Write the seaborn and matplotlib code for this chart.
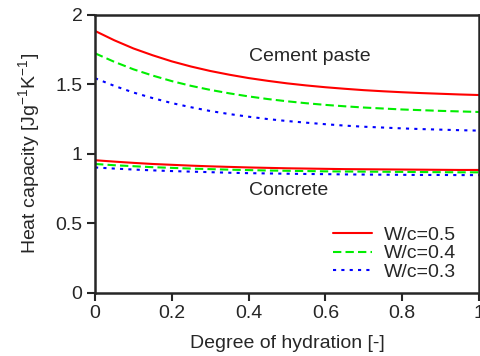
import numpy as np
import pandas as pd
import matplotlib
matplotlib.use("Agg")
import matplotlib.pyplot as plt
import seaborn as sns

# Degree of hydration
alpha = [0.0, 0.05, 0.1, 0.15, 0.2, 0.25, 0.3, 0.35, 0.4, 0.45, 0.5,
         0.55, 0.6, 0.65, 0.7, 0.75, 0.8, 0.85, 0.9, 0.95, 1.0]

# Cement paste heat capacity [J/gK]
paste_wc05 = [1.885, 1.818, 1.759, 1.710, 1.666, 1.629, 1.597, 1.570, 1.546, 1.526, 1.508,
              1.493, 1.480, 1.469, 1.459, 1.451, 1.444, 1.438, 1.433, 1.428, 1.424]
paste_wc04 = [1.724, 1.663, 1.609, 1.564, 1.524, 1.490, 1.461, 1.436, 1.414, 1.395, 1.379,
              1.365, 1.353, 1.343, 1.334, 1.327, 1.320, 1.315, 1.310, 1.306, 1.302]
paste_wc03 = [1.545, 1.490, 1.442, 1.402, 1.366, 1.336, 1.309, 1.287, 1.268, 1.251, 1.237,
              1.225, 1.214, 1.204, 1.196, 1.190, 1.184, 1.179, 1.175, 1.171, 1.168]

# Concrete heat capacity [J/gK]
conc_wc05 = [0.955, 0.945, 0.936, 0.928, 0.922, 0.916, 0.911, 0.907, 0.903, 0.900, 0.897,
             0.895, 0.893, 0.891, 0.890, 0.889, 0.888, 0.887, 0.886, 0.885, 0.885]
conc_wc04 = [0.928, 0.919, 0.912, 0.905, 0.900, 0.895, 0.891, 0.887, 0.884, 0.881, 0.879,
             0.877, 0.875, 0.874, 0.873, 0.872, 0.871, 0.870, 0.869, 0.868, 0.868]
conc_wc03 = [0.903, 0.895, 0.888, 0.882, 0.877, 0.873, 0.869, 0.865, 0.862, 0.860, 0.858,
             0.856, 0.855, 0.853, 0.852, 0.851, 0.850, 0.849, 0.849, 0.848, 0.848]

labels = ["W/c=0.5", "W/c=0.4", "W/c=0.3"]
colors = ["#ff0000", "#00ee00", "#0000ff"]
dashes = [(None, None), (4, 2), (1.5, 2.5)]

sns.set_style("ticks")
plt.rcParams["font.family"] = ["Liberation Sans", "DejaVu Sans"]
plt.rcParams["mathtext.fontset"] = "custom"
plt.rcParams["mathtext.rm"] = "Liberation Sans"
plt.rcParams["mathtext.it"] = "Liberation Sans"

fig = plt.figure(figsize=(4.8, 3.56), dpi=100)
ax = fig.add_axes([0.198, 0.177, 0.8, 0.781])

paste = [paste_wc05, paste_wc04, paste_wc03]
conc = [conc_wc05, conc_wc04, conc_wc03]
for i in range(3):
    df_p = pd.DataFrame({"x": alpha, "y": paste[i]})
    df_c = pd.DataFrame({"x": alpha, "y": conc[i]})
    for df, lab in ((df_p, labels[i]), (df_c, None)):
        sns.lineplot(data=df, x="x", y="y", ax=ax, color=colors[i], lw=1.5,
                     label=lab, legend=False)
        line = ax.lines[-1]
        if dashes[i][0] is not None:
            line.set_dashes(dashes[i])

ax.set_xlim(0, 1)
ax.set_ylim(0, 2)
ax.set_xticks([0, 0.2, 0.4, 0.6, 0.8, 1])
ax.set_xticklabels(["0", "0.2", "0.4", "0.6", "0.8", "1"])
ax.set_yticks([0, 0.5, 1, 1.5, 2])
ax.set_yticklabels(["0", "0.5", "1", "1.5", "2"])
ax.tick_params(direction="out", length=6, width=1.5, labelsize=14, pad=3)
for s in ax.spines.values():
    s.set_linewidth(1.8)
    s.set_visible(True)

ax.set_xlabel("Degree of hydration [-]", fontsize=14, labelpad=9)
ax.set_ylabel("Heat capacity [Jg$^{-1}$K$^{-1}$]", fontsize=14, labelpad=10)

ax.text(0.4, 1.70, "Cement paste", fontsize=14, va="center", ha="left")
ax.text(0.4, 0.74, "Concrete", fontsize=14, va="center", ha="left")

handles = [ax.lines[0], ax.lines[2], ax.lines[4]]
ax.legend(handles, labels, loc="lower right", frameon=False, fontsize=14,
          handlelength=2.0, handletextpad=0.6, labelspacing=0.05,
          bbox_to_anchor=(0.985, -0.02))

fig.savefig("out.png", dpi=100)
